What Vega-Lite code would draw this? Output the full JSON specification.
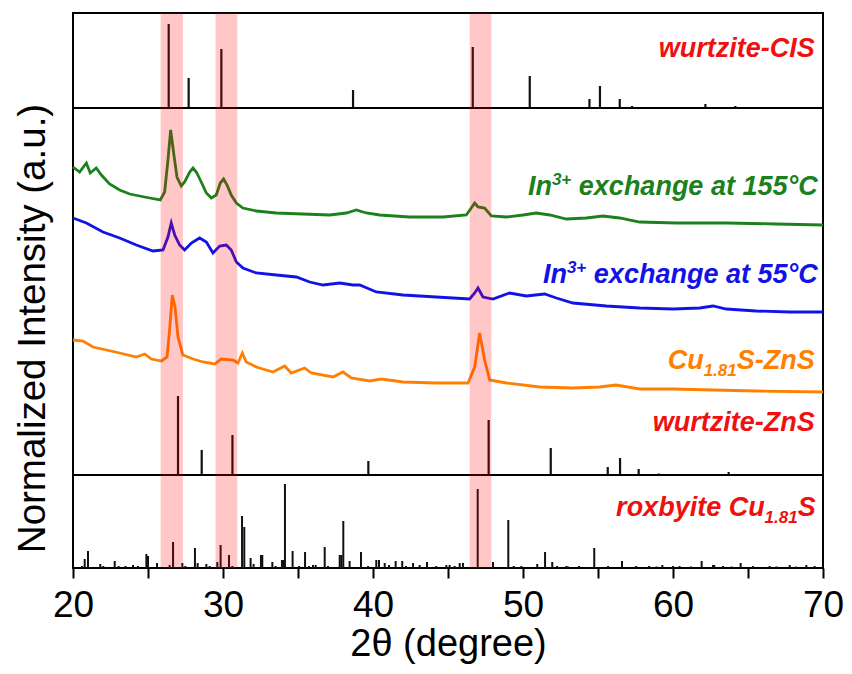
{
  "$schema": "https://vega.github.io/schema/vega-lite/v6.json",
  "width": 750,
  "height": 555,
  "autosize": {"type": "none"},
  "padding": {"left": 73, "top": 13, "right": 29, "bottom": 106},
  "config": {"view": {"stroke": "#000", "strokeWidth": 2}, "font": "Liberation Sans"},
  "resolve": {"axis": {"x": "independent", "y": "independent"}},
  "datasets": {
    "curves": [
      {"t":20.0,"I":401,"s":"155"},{"t":20.44,"I":396,"s":"155"},{"t":20.89,"I":405,"s":"155"},{"t":21.15,"I":395,"s":"155"},{"t":21.55,"I":400,"s":"155"},{"t":21.89,"I":393,"s":"155"},{"t":22.44,"I":384,"s":"155"},{"t":23.11,"I":378,"s":"155"},{"t":23.78,"I":374,"s":"155"},{"t":24.44,"I":372,"s":"155"},{"t":25.11,"I":370,"s":"155"},{"t":25.82,"I":368,"s":"155"},{"t":26.11,"I":376,"s":"155"},{"t":26.33,"I":408,"s":"155"},{"t":26.51,"I":438,"s":"155"},{"t":26.71,"I":415,"s":"155"},{"t":26.93,"I":391,"s":"155"},{"t":27.22,"I":382,"s":"155"},{"t":27.44,"I":386,"s":"155"},{"t":27.78,"I":396,"s":"155"},{"t":28.0,"I":400,"s":"155"},{"t":28.22,"I":396,"s":"155"},{"t":28.55,"I":386,"s":"155"},{"t":28.89,"I":375,"s":"155"},{"t":29.22,"I":370,"s":"155"},{"t":29.55,"I":373,"s":"155"},{"t":29.82,"I":385,"s":"155"},{"t":30.04,"I":389,"s":"155"},{"t":30.27,"I":383,"s":"155"},{"t":30.55,"I":373,"s":"155"},{"t":30.89,"I":365,"s":"155"},{"t":31.33,"I":360,"s":"155"},{"t":32.22,"I":357,"s":"155"},{"t":33.55,"I":355,"s":"155"},{"t":35.33,"I":354,"s":"155"},{"t":37.11,"I":353,"s":"155"},{"t":38.22,"I":355,"s":"155"},{"t":38.89,"I":358,"s":"155"},{"t":39.55,"I":355,"s":"155"},{"t":40.44,"I":353,"s":"155"},{"t":42.44,"I":351,"s":"155"},{"t":44.67,"I":351,"s":"155"},{"t":46.22,"I":353,"s":"155"},{"t":46.55,"I":360,"s":"155"},{"t":46.78,"I":365,"s":"155"},{"t":47.0,"I":361,"s":"155"},{"t":47.44,"I":360,"s":"155"},{"t":47.89,"I":352,"s":"155"},{"t":48.89,"I":351,"s":"155"},{"t":50.0,"I":353,"s":"155"},{"t":50.89,"I":355,"s":"155"},{"t":51.78,"I":353,"s":"155"},{"t":52.89,"I":349,"s":"155"},{"t":54.22,"I":350,"s":"155"},{"t":55.33,"I":352,"s":"155"},{"t":56.44,"I":350,"s":"155"},{"t":57.78,"I":346,"s":"155"},{"t":60.22,"I":345,"s":"155"},{"t":63.55,"I":345,"s":"155"},{"t":66.89,"I":344,"s":"155"},{"t":70.0,"I":343,"s":"155"},
      {"t":20.0,"I":350,"s":"55"},{"t":20.89,"I":345,"s":"55"},{"t":22.0,"I":336,"s":"55"},{"t":23.11,"I":330,"s":"55"},{"t":24.22,"I":323,"s":"55"},{"t":25.33,"I":317,"s":"55"},{"t":26.0,"I":318,"s":"55"},{"t":26.33,"I":331,"s":"55"},{"t":26.55,"I":345,"s":"55"},{"t":26.78,"I":333,"s":"55"},{"t":27.11,"I":323,"s":"55"},{"t":27.44,"I":318,"s":"55"},{"t":27.89,"I":325,"s":"55"},{"t":28.44,"I":330,"s":"55"},{"t":28.89,"I":326,"s":"55"},{"t":29.33,"I":315,"s":"55"},{"t":29.78,"I":322,"s":"55"},{"t":30.22,"I":323,"s":"55"},{"t":30.55,"I":318,"s":"55"},{"t":30.89,"I":306,"s":"55"},{"t":31.33,"I":300,"s":"55"},{"t":32.22,"I":295,"s":"55"},{"t":33.55,"I":293,"s":"55"},{"t":34.89,"I":291,"s":"55"},{"t":35.78,"I":286,"s":"55"},{"t":36.67,"I":283,"s":"55"},{"t":37.78,"I":285,"s":"55"},{"t":38.67,"I":283,"s":"55"},{"t":39.11,"I":283,"s":"55"},{"t":40.22,"I":276,"s":"55"},{"t":42.0,"I":273,"s":"55"},{"t":44.22,"I":271,"s":"55"},{"t":46.44,"I":269,"s":"55"},{"t":46.78,"I":275,"s":"55"},{"t":47.0,"I":280,"s":"55"},{"t":47.33,"I":271,"s":"55"},{"t":48.0,"I":269,"s":"55"},{"t":49.11,"I":275,"s":"55"},{"t":50.22,"I":272,"s":"55"},{"t":51.44,"I":274,"s":"55"},{"t":52.22,"I":270,"s":"55"},{"t":53.33,"I":265,"s":"55"},{"t":55.55,"I":262,"s":"55"},{"t":57.78,"I":260,"s":"55"},{"t":60.0,"I":259,"s":"55"},{"t":61.78,"I":260,"s":"55"},{"t":62.67,"I":262,"s":"55"},{"t":63.55,"I":259,"s":"55"},{"t":65.55,"I":257,"s":"55"},{"t":67.78,"I":256,"s":"55"},{"t":70.0,"I":256,"s":"55"},
      {"t":20.0,"I":228,"s":"CuS"},{"t":20.67,"I":227,"s":"CuS"},{"t":21.33,"I":221,"s":"CuS"},{"t":22.22,"I":218,"s":"CuS"},{"t":23.11,"I":215,"s":"CuS"},{"t":24.22,"I":211,"s":"CuS"},{"t":24.78,"I":214,"s":"CuS"},{"t":25.22,"I":209,"s":"CuS"},{"t":25.89,"I":207,"s":"CuS"},{"t":26.27,"I":211,"s":"CuS"},{"t":26.44,"I":238,"s":"CuS"},{"t":26.62,"I":273,"s":"CuS"},{"t":26.8,"I":261,"s":"CuS"},{"t":27.0,"I":231,"s":"CuS"},{"t":27.33,"I":213,"s":"CuS"},{"t":28.0,"I":209,"s":"CuS"},{"t":28.67,"I":206,"s":"CuS"},{"t":29.44,"I":204,"s":"CuS"},{"t":29.89,"I":209,"s":"CuS"},{"t":30.67,"I":208,"s":"CuS"},{"t":31.0,"I":205,"s":"CuS"},{"t":31.29,"I":215,"s":"CuS"},{"t":31.55,"I":206,"s":"CuS"},{"t":32.22,"I":201,"s":"CuS"},{"t":33.33,"I":196,"s":"CuS"},{"t":34.11,"I":202,"s":"CuS"},{"t":34.55,"I":195,"s":"CuS"},{"t":35.44,"I":200,"s":"CuS"},{"t":35.89,"I":195,"s":"CuS"},{"t":37.33,"I":191,"s":"CuS"},{"t":38.0,"I":196,"s":"CuS"},{"t":38.55,"I":190,"s":"CuS"},{"t":39.78,"I":187,"s":"CuS"},{"t":40.55,"I":189,"s":"CuS"},{"t":42.0,"I":186,"s":"CuS"},{"t":44.22,"I":185,"s":"CuS"},{"t":46.33,"I":185,"s":"CuS"},{"t":46.78,"I":201,"s":"CuS"},{"t":47.11,"I":235,"s":"CuS"},{"t":47.44,"I":208,"s":"CuS"},{"t":47.78,"I":188,"s":"CuS"},{"t":48.89,"I":185,"s":"CuS"},{"t":51.11,"I":181,"s":"CuS"},{"t":53.33,"I":180,"s":"CuS"},{"t":55.11,"I":181,"s":"CuS"},{"t":56.2,"I":183,"s":"CuS"},{"t":57.78,"I":179,"s":"CuS"},{"t":60.0,"I":179,"s":"CuS"},{"t":62.67,"I":178,"s":"CuS"},{"t":65.55,"I":177,"s":"CuS"},{"t":70.0,"I":176,"s":"CuS"}
    ],
    "cis": [
      {"t":26.38,"I":544},{"t":27.71,"I":490},{"t":29.89,"I":519},{"t":38.67,"I":478},{"t":46.65,"I":521},{"t":50.45,"I":492},{"t":54.43,"I":469},{"t":55.13,"I":482},{"t":56.45,"I":469},{"t":57.27,"I":462},{"t":62.16,"I":464},{"t":64.16,"I":462}
    ],
    "zns": [
      {"t":27.0,"I":172},{"t":28.58,"I":118},{"t":30.63,"I":133},{"t":39.69,"I":107},{"t":47.71,"I":148},{"t":51.85,"I":120},{"t":55.65,"I":101},{"t":56.47,"I":110},{"t":57.71,"I":99},{"t":59.05,"I":94.5},{"t":63.71,"I":96}
    ],
    "rox": [
      {"t":20.6,"I":2},{"t":20.78,"I":9},{"t":21.0,"I":17},{"t":21.82,"I":4},{"t":22.02,"I":2},{"t":22.78,"I":7},{"t":23.04,"I":2},{"t":23.5,"I":2},{"t":24.0,"I":3},{"t":24.33,"I":2},{"t":24.89,"I":14},{"t":25.0,"I":12},{"t":25.6,"I":5},{"t":26.44,"I":3},{"t":26.67,"I":26},{"t":27.29,"I":5},{"t":27.49,"I":2},{"t":28.13,"I":20},{"t":28.31,"I":5},{"t":28.89,"I":4},{"t":29.11,"I":2},{"t":29.62,"I":6},{"t":29.84,"I":23},{"t":30.4,"I":13},{"t":30.62,"I":2},{"t":31.27,"I":52},{"t":31.42,"I":41},{"t":31.84,"I":10},{"t":32.04,"I":4},{"t":32.53,"I":13},{"t":32.62,"I":13},{"t":33.29,"I":6},{"t":33.51,"I":2},{"t":33.93,"I":8},{"t":34.02,"I":8},{"t":34.13,"I":84},{"t":34.64,"I":17},{"t":35.07,"I":2},{"t":35.47,"I":16},{"t":35.73,"I":2},{"t":36.0,"I":3},{"t":36.18,"I":3},{"t":36.78,"I":21},{"t":37.0,"I":2},{"t":37.78,"I":13},{"t":37.89,"I":13},{"t":38.02,"I":47},{"t":38.44,"I":7},{"t":39.2,"I":16},{"t":39.67,"I":2},{"t":40.22,"I":8},{"t":40.4,"I":8},{"t":40.78,"I":5},{"t":41.07,"I":3},{"t":41.51,"I":7},{"t":41.95,"I":7},{"t":42.2,"I":2},{"t":42.67,"I":5},{"t":43.11,"I":3},{"t":43.6,"I":6},{"t":44.22,"I":2},{"t":44.89,"I":3},{"t":45.11,"I":3},{"t":45.44,"I":2},{"t":45.78,"I":5},{"t":46.0,"I":5},{"t":46.98,"I":79},{"t":48.0,"I":6},{"t":49.02,"I":48},{"t":49.38,"I":2},{"t":49.89,"I":2},{"t":50.95,"I":4},{"t":51.47,"I":16},{"t":51.95,"I":6},{"t":52.27,"I":2},{"t":52.89,"I":2},{"t":53.0,"I":1.5},{"t":53.73,"I":2},{"t":54.75,"I":20},{"t":55.67,"I":2},{"t":56.6,"I":7},{"t":57.55,"I":2},{"t":58.4,"I":2},{"t":58.9,"I":1.5},{"t":59.29,"I":3},{"t":60.0,"I":2},{"t":60.44,"I":2},{"t":61.2,"I":1.5},{"t":61.91,"I":7},{"t":62.67,"I":3},{"t":62.75,"I":3},{"t":63.33,"I":2},{"t":63.9,"I":1.5},{"t":64.51,"I":5},{"t":65.33,"I":2},{"t":66.44,"I":2},{"t":66.9,"I":1.5},{"t":67.78,"I":3},{"t":68.2,"I":1.5},{"t":68.89,"I":3},{"t":69.44,"I":2}
    ],
    "bands": [
      {"a":25.84,"b":27.33},{"a":29.5,"b":30.95},{"a":46.45,"b":47.89}
    ],
    "seps": [{"I":460},{"I":93}],
    "mainLabels": [
      {"t":69.45,"I":510.7,"txt":"wurtzite-CIS","s":"ref"},
      {"t":69.65,"I":373,"txt":"exchange at 155°C","s":"155"},
      {"t":51.93,"I":373,"txt":"In","s":"155"},
      {"t":69.65,"I":284.7,"txt":"exchange at 55°C","s":"55"},
      {"t":52.93,"I":284.7,"txt":"In","s":"55"},
      {"t":69.45,"I":199,"txt":"S-ZnS","s":"CuS"},
      {"t":62.05,"I":199,"txt":"Cu","s":"CuS"},
      {"t":69.45,"I":137,"txt":"wurtzite-ZnS","s":"ref"},
      {"t":69.52,"I":52.3,"txt":"S","s":"ref"},
      {"t":66.11,"I":52.3,"txt":"roxbyite Cu","s":"ref"}
    ],
    "scriptLabels": [
      {"t":53.22,"I":383,"txt":"3+","s":"155"},
      {"t":54.22,"I":294.7,"txt":"3+","s":"55"},
      {"t":64.25,"I":192,"txt":"1.81","s":"CuS"},
      {"t":68.31,"I":45.3,"txt":"1.81","s":"ref"}
    ]
  },
  "layer": [
    {
      "data": {"name": "curves"},
      "mark": {"type": "line", "strokeWidth": 2.8, "interpolate": "linear"},
      "encoding": {
        "x": {"field": "t", "type": "quantitative", "scale": {"domain": [20, 70], "nice": false, "zero": false},
          "axis": {"orient": "bottom", "values": [20, 25, 30, 35, 40, 45, 50, 55, 60, 65, 70], "format": "d",
            "labelExpr": "datum.value % 10 === 0 ? datum.label : ''",
            "title": "2θ (degree)", "domain": false, "grid": false,
            "tickColor": "#000", "tickWidth": 2, "tickSize": 10, "labelFont": "Liberation Sans", "labelFontSize": 37, "labelColor": "#000",
            "labelPadding": 9, "labelFlush": false, "labelOverlap": false, "titleFont": "Liberation Sans", "titleFontSize": 38,
            "titleFontWeight": "normal", "titleColor": "#000", "titleBaseline": "alphabetic", "titleY": 87,
            "encoding": {"ticks": {"update": {"y2": {"signal": "datum.value % 10 === 0 ? 10 : 5"}}}}}},
        "y": {"field": "I", "type": "quantitative", "scale": {"domain": [0, 555], "nice": false, "zero": false},
          "axis": {"orient": "left", "title": "Normalized Intensity (a.u.)", "labels": false, "ticks": false, "domain": false, "grid": false,
            "titleFont": "Liberation Sans", "titleFontSize": 38.5, "titleFontWeight": "normal", "titleColor": "#000",
            "titleX": -29, "titleY": 315, "titleAngle": -90, "titleBaseline": "alphabetic", "titleAlign": "center"}},
        "color": {"field": "s", "type": "nominal", "legend": null,
          "scale": {"domain": ["155", "55", "CuS", "ref"], "range": ["#1c801c", "#1212e8", "#ff8000", "#f01010"]}},
        "detail": {"field": "s"}
      }
    },
    {
      "data": {"name": "cis"},
      "mark": {"type": "rule", "color": "#111", "strokeWidth": 2.2},
      "encoding": {
        "x": {"field": "t", "type": "quantitative", "axis": null},
        "y": {"field": "I", "type": "quantitative", "axis": null},
        "y2": {"datum": 460}
      }
    },
    {
      "data": {"name": "zns"},
      "mark": {"type": "rule", "color": "#111", "strokeWidth": 2.2},
      "encoding": {
        "x": {"field": "t", "type": "quantitative", "axis": null},
        "y": {"field": "I", "type": "quantitative", "axis": null},
        "y2": {"datum": 93}
      }
    },
    {
      "data": {"name": "rox"},
      "mark": {"type": "rule", "color": "#111", "strokeWidth": 2},
      "encoding": {
        "x": {"field": "t", "type": "quantitative", "axis": null},
        "y": {"field": "I", "type": "quantitative", "axis": null},
        "y2": {"datum": 0}
      }
    },
    {
      "data": {"name": "seps"},
      "mark": {"type": "rule", "color": "#000", "strokeWidth": 2},
      "encoding": {
        "y": {"field": "I", "type": "quantitative", "axis": null}
      }
    },
    {
      "data": {"name": "bands"},
      "mark": {"type": "rect", "color": "#ff0000", "opacity": 0.22},
      "encoding": {
        "x": {"field": "a", "type": "quantitative", "axis": null},
        "x2": {"field": "b"},
        "y": {"datum": 0, "axis": null},
        "y2": {"datum": 555}
      }
    },
    {
      "data": {"name": "mainLabels"},
      "mark": {"type": "text", "align": "right", "baseline": "alphabetic", "font": "Liberation Sans", "fontSize": 27, "fontWeight": "bold", "fontStyle": "italic"},
      "encoding": {
        "x": {"field": "t", "type": "quantitative", "axis": null},
        "y": {"field": "I", "type": "quantitative", "axis": null},
        "text": {"field": "txt"},
        "color": {"field": "s", "type": "nominal", "legend": null,
          "scale": {"domain": ["155", "55", "CuS", "ref"], "range": ["#1c801c", "#1212e8", "#ff8000", "#f01010"]}}
      }
    },
    {
      "data": {"name": "scriptLabels"},
      "mark": {"type": "text", "align": "right", "baseline": "alphabetic", "font": "Liberation Sans", "fontSize": 17, "fontWeight": "bold", "fontStyle": "italic"},
      "encoding": {
        "x": {"field": "t", "type": "quantitative", "axis": null},
        "y": {"field": "I", "type": "quantitative", "axis": null},
        "text": {"field": "txt"},
        "color": {"field": "s", "type": "nominal", "legend": null,
          "scale": {"domain": ["155", "55", "CuS", "ref"], "range": ["#1c801c", "#1212e8", "#ff8000", "#f01010"]}}
      }
    }
  ]
}
